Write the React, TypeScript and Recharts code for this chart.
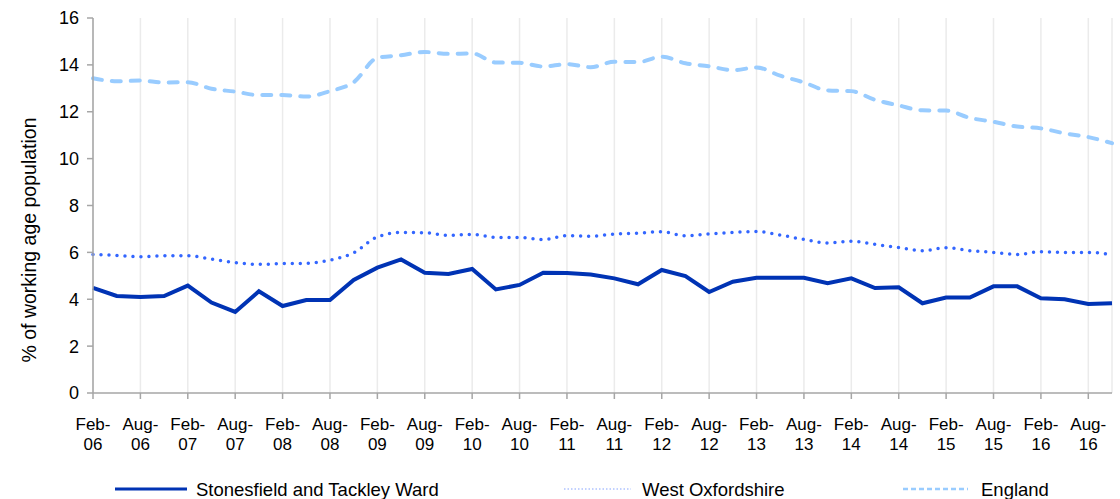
import React from 'react';
import { LineChart, Line, XAxis, YAxis, CartesianGrid, Legend } from 'recharts';

const categories = [
  'Feb-06', 'May-06', 'Aug-06', 'Nov-06',
  'Feb-07', 'May-07', 'Aug-07', 'Nov-07',
  'Feb-08', 'May-08', 'Aug-08', 'Nov-08',
  'Feb-09', 'May-09', 'Aug-09', 'Nov-09',
  'Feb-10', 'May-10', 'Aug-10', 'Nov-10',
  'Feb-11', 'May-11', 'Aug-11', 'Nov-11',
  'Feb-12', 'May-12', 'Aug-12', 'Nov-12',
  'Feb-13', 'May-13', 'Aug-13', 'Nov-13',
  'Feb-14', 'May-14', 'Aug-14', 'Nov-14',
  'Feb-15', 'May-15', 'Aug-15', 'Nov-15',
  'Feb-16', 'May-16', 'Aug-16', 'Nov-16',
];

const stonesfield = [
  4.49, 4.14, 4.1, 4.14,
  4.58, 3.86, 3.46, 4.34,
  3.71, 3.97, 3.97, 4.82,
  5.35, 5.7, 5.13, 5.08,
  5.29, 4.42, 4.61, 5.13,
  5.12, 5.06, 4.89, 4.64,
  5.25, 4.99, 4.31, 4.75,
  4.92, 4.92, 4.92, 4.68,
  4.89, 4.48, 4.51, 3.83,
  4.07, 4.07, 4.55, 4.55,
  4.04, 4.0, 3.8, 3.83,
];

const westOxfordshire = [
  5.91, 5.87, 5.81, 5.86,
  5.86, 5.71, 5.56, 5.49,
  5.52, 5.53, 5.67, 5.98,
  6.66, 6.85, 6.84, 6.72,
  6.77, 6.64, 6.64, 6.55,
  6.71, 6.69, 6.78, 6.82,
  6.88, 6.71, 6.79, 6.85,
  6.89, 6.74, 6.55, 6.4,
  6.48, 6.34, 6.21, 6.07,
  6.2, 6.07, 6.0, 5.91,
  6.03, 6.0, 6.0, 5.9,
];

const england = [
  13.43, 13.3, 13.33, 13.25,
  13.26, 12.98, 12.86, 12.71,
  12.71, 12.65, 12.88, 13.26,
  14.3, 14.41, 14.55, 14.47,
  14.49, 14.1, 14.09, 13.93,
  14.03, 13.9, 14.13, 14.12,
  14.35, 14.07, 13.94, 13.77,
  13.89, 13.54, 13.25, 12.91,
  12.88, 12.51, 12.27, 12.06,
  12.05, 11.74, 11.57, 11.37,
  11.29, 11.08, 10.92, 10.66,
];

const yTicks = [0, 2, 4, 6, 8, 10, 12, 14, 16];

const seriesNames = ['Stonesfield and Tackley Ward', 'West Oxfordshire', 'England'];
const yAxisTitle = '% of working age population';

const data = categories.map((c, i) => ({
  label: c,
  s: stonesfield[i],
  w: westOxfordshire[i],
  e: england[i],
}));

const FONT = 'Arial, "Liberation Sans", Helvetica, sans-serif';
const AXIS = '#a6a6a6';

const XTick = (props: any) => {
  const { x, y, payload } = props;
  const parts = String(payload.value).split('-');
  return (
    <text x={x} y={y} textAnchor="middle" fontFamily={FONT} fontSize={17} fill="#000">
      <tspan x={x} dy={29}>{parts[0] + '-'}</tspan>
      <tspan x={x} dy={20}>{parts[1]}</tspan>
    </text>
  );
};

const YTitle = () => (
  <text
    x={29}
    y={240}
    transform="rotate(-90, 29, 240)"
    textAnchor="middle"
    dominantBaseline="central"
    fontFamily={FONT}
    fontSize={19.5}
    fill="#000"
  >
    {yAxisTitle}
  </text>
);

const LegendContent = () => (
  <svg width={1120} height={50} style={{ display: 'block' }}>
    <line x1={115} x2={187} y1={40} y2={40} stroke="#0033b4" strokeWidth={3} />
    <text x={196} y={40} dominantBaseline="central" fontFamily={FONT} fontSize={18.5} fill="#000">
      {seriesNames[0]}
    </text>
    <line x1={564} x2={631} y1={40} y2={40} stroke="#3366ff" strokeOpacity={0.4} strokeWidth={1.5} strokeDasharray="1.5 2" />
    <text x={642} y={40} dominantBaseline="central" fontFamily={FONT} fontSize={18.5} fill="#000">
      {seriesNames[1]}
    </text>
    <line x1={903} x2={968} y1={40} y2={40} stroke="#99ccff" strokeWidth={2.5} strokeDasharray="5 3" />
    <text x={981} y={40} dominantBaseline="central" fontFamily={FONT} fontSize={18.5} fill="#000">
      {seriesNames[2]}
    </text>
  </svg>
);

export default function App() {
  return (
    <div style={{ position: 'absolute', left: 0, top: 0, width: 1120, height: 499, background: '#fff' }}>
      <LineChart width={1120} height={499} data={data} margin={{ top: 18, right: 8, left: 0, bottom: 0 }}>
        <CartesianGrid horizontal={false} stroke="#ebebeb" strokeWidth={1.5} />
        <XAxis
          dataKey="label"
          interval={1}
          height={56}
          tick={<XTick />}
          tickSize={6}
          axisLine={{ stroke: AXIS, strokeWidth: 1.5 }}
          tickLine={{ stroke: AXIS, strokeWidth: 1.5 }}
        />
        <YAxis
          width={93}
          domain={[0, 16]}
          ticks={yTicks}
          interval={0}
          tickSize={6}
          tickMargin={8}
          tick={{ fontFamily: FONT, fontSize: 18, fill: '#000' }}
          axisLine={{ stroke: AXIS, strokeWidth: 1.5 }}
          tickLine={{ stroke: AXIS, strokeWidth: 1.5 }}
          label={<YTitle />}
        />
        <Legend verticalAlign="bottom" height={50} content={<LegendContent />} />
        <Line
          dataKey="e"
          name={seriesNames[2]}
          type="monotone"
          stroke="#99ccff"
          strokeWidth={4}
          strokeDasharray="9 10"
          strokeLinecap="round"
          dot={false}
          isAnimationActive={false}
        />
        <Line
          dataKey="w"
          name={seriesNames[1]}
          type="monotone"
          stroke="#3366ff"
          strokeWidth={3.5}
          strokeDasharray="0 8"
          strokeLinecap="round"
          dot={false}
          isAnimationActive={false}
        />
        <Line
          dataKey="s"
          name={seriesNames[0]}
          type="linear"
          stroke="#0033b4"
          strokeWidth={4}
          dot={false}
          isAnimationActive={false}
        />
      </LineChart>
    </div>
  );
}
